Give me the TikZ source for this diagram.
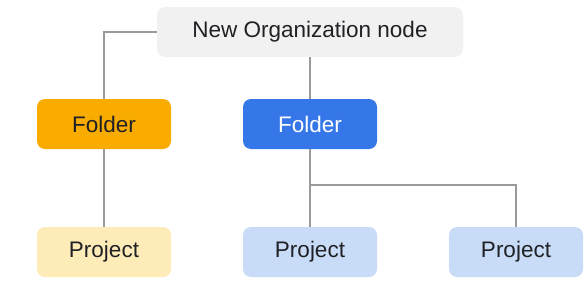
\documentclass[tikz,border=0pt]{standalone}
\usepackage{fontspec}
\setmainfont{Liberation Sans}
\usetikzlibrary{positioning}
\usepackage{xcolor}

\definecolor{orggray}{HTML}{F1F1F1}
\definecolor{folderyellow}{HTML}{F9AB00}
\definecolor{folderblue}{HTML}{3577E9}
\definecolor{projyellow}{HTML}{FDEBB8}
\definecolor{projblue}{HTML}{C8DBF7}
\definecolor{linegray}{HTML}{9A9A9A}
\definecolor{textdark}{HTML}{202124}

\begin{document}
\begin{tikzpicture}[
    % pixel-like units, y going down
    x=1pt, y=-1pt,
    box/.style={rounded corners=8pt, minimum width=134pt, minimum height=50pt,
        inner sep=0pt, font=\fontsize{22.5}{25}\selectfont, text=textdark},
    link/.style={draw=linegray, line width=1.3pt}
]
    \useasboundingbox (0,0) rectangle (588,297);

    % Organization
    \node[box, fill=orggray, minimum width=306pt] (org) at (310,32) {New Organization node};

    % Folders
    \node[box, fill=folderyellow] (folderA) at (104,124) {Folder};
    \node[box, fill=folderblue, text=white] (folderB) at (310,124) {Folder};

    % Projects
    \node[box, fill=projyellow] (projA) at (104,252) {Project};
    \node[box, fill=projblue] (projB) at (310,252) {Project};
    \node[box, fill=projblue] (projC) at (516,252) {Project};

    % Links
    \draw[link] (org.west) -| (folderA.north);
    \draw[link] (org.south) -- (folderB.north);
    \draw[link] (folderA.south) -- (projA.north);
    \draw[link] (folderB.south) -- (projB.north);
    \coordinate (split) at (310,185);
    \draw[link] (split) -| (projC.north);
\end{tikzpicture}
\end{document}
